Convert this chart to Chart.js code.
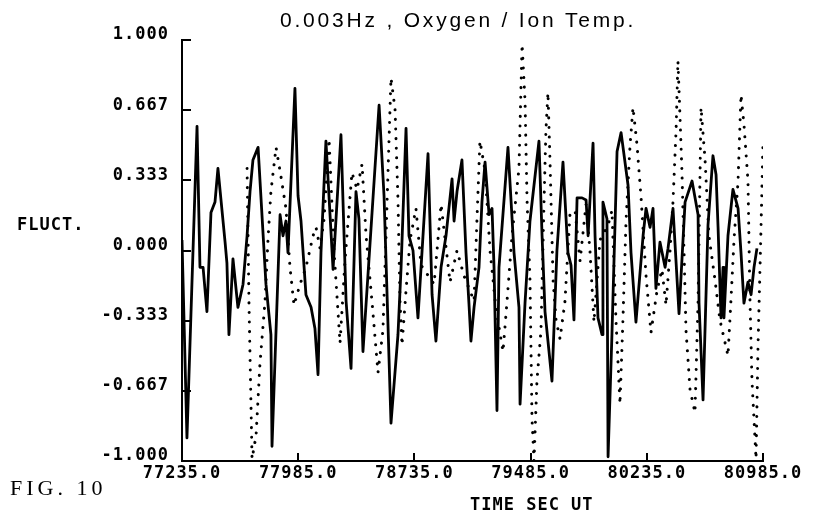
<!DOCTYPE html>
<html>
<head>
<meta charset="utf-8">
<script src="https://cdn.jsdelivr.net/npm/chart.js@4"></script>
<style>
  body { margin: 0; background: #fff; }
  canvas { display: block; }
</style>
</head>
<body>
<canvas id="fluct-chart" width="820" height="516"></canvas>
<script>
// Textos da figura
const titleText = '0.003Hz , Oxygen / Ion Temp.';
const yTitle = 'FLUCT.';
const xTitle = 'TIME SEC UT';
const figLabel = 'FIG. 10';

// Marcas dos eixos
const xTicks = [77235, 77985, 78735, 79485, 80235, 80985];
const yTicks = [-1, -0.667, -0.333, 0, 0.333, 0.667, 1];

// Curva continua (tempo em s UT / flutuacao)
const solidTimes = [
  77235, 77267, 77332, 77351, 77371, 77396, 77422, 77448, 77467, 77513,
  77525, 77538, 77564, 77596, 77629, 77655, 77674, 77693, 77726, 77777,
  77809, 77816, 77868, 77887, 77906, 77919, 77964, 77984, 78003, 78035,
  78068, 78093, 78113, 78132, 78164, 78210, 78261, 78294, 78326, 78358,
  78377, 78403, 78507, 78539, 78584, 78629, 78649, 78681, 78700, 78726,
  78758, 78823, 78849, 78874, 78907, 78939, 78978, 78991, 79010, 79042,
  79068, 79087, 79100, 79120, 79152, 79171, 79191, 79217, 79236, 79249,
  79268, 79281, 79339, 79378, 79410, 79417, 79449, 79481, 79539, 79559,
  79578, 79623, 79655, 79694, 79726, 79746, 79765, 79785, 79817, 79843,
  79856, 79888, 79901, 79920, 79946, 79952, 79978, 79985, 80010, 80043,
  80069, 80114, 80133, 80165, 80211, 80230, 80256, 80275, 80294, 80320,
  80353, 80372, 80404, 80443, 80482, 80527, 80566, 80572, 80598, 80630,
  80662, 80682, 80695, 80714, 80727, 80733, 80759, 80791, 80824, 80843,
  80862, 80888, 80908, 80927, 80946
];
const solidValues = [
  0.05, -0.89, 0.59, -0.08, -0.08, -0.29, 0.18, 0.23, 0.39, 0.04,
  -0.06, -0.40, -0.04, -0.27, -0.16, 0.07, 0.28, 0.43, 0.49, -0.16,
  -0.40, -0.93, 0.17, 0.07, 0.14, -0.01, 0.77, 0.26, 0.14, -0.21,
  -0.27, -0.37, -0.59, -0.01, 0.52, -0.09, 0.55, -0.24, -0.56, 0.28,
  0.15, -0.48, 0.69, 0.26, -0.82, -0.40, -0.08, 0.58, 0.07, 0.0,
  -0.32, 0.46, -0.21, -0.43, -0.08, 0.07, 0.34, 0.14, 0.28, 0.43,
  -0.01, -0.25, -0.43, -0.27, -0.08, 0.23, 0.42, 0.17, 0.20, -0.08,
  -0.76, -0.08, 0.49, -0.01, -0.27, -0.73, -0.25, 0.14, 0.52, 0.07,
  -0.29, -0.62, 0.0, 0.42, -0.01, -0.07, -0.33, 0.25, 0.25, 0.24,
  0.07, 0.51, 0.07, -0.32, -0.40, 0.23, 0.15, -0.98, -0.40, 0.47,
  0.56, 0.31, -0.01, -0.34, 0.07, 0.20, 0.11, 0.20, -0.18, 0.04,
  -0.08, 0.01, 0.20, -0.30, 0.23, 0.33, 0.17, -0.25, -0.71, 0.12,
  0.45, 0.36, 0.11, -0.32, -0.08, -0.32, 0.07, 0.29, 0.20, -0.01,
  -0.25, -0.15, -0.21, -0.08, 0.01
];

// Curva pontilhada
const dottedTimes = [
  77655, 77667, 77687, 77713, 77738, 77771, 77790, 77809, 77842, 77874,
  77906, 77932, 77958, 77997, 78035, 78081, 78100, 78126, 78152, 78184,
  78216, 78255, 78287, 78332, 78365, 78397, 78423, 78461, 78500, 78532,
  78552, 78571, 78584, 78610, 78629, 78642, 78655, 78681, 78707, 78745,
  78778, 78862, 78907, 78965, 79010, 79055, 79120, 79139, 79158, 79191,
  79223, 79262, 79307, 79333, 79365, 79410, 79430, 79449, 79462, 79481,
  79494, 79507, 79526, 79552, 79572, 79584, 79597, 79610, 79630, 79649,
  79675, 79707, 79739, 79772, 79804, 79843, 79868, 79894, 79933, 79985,
  80010, 80036, 80062, 80081, 80101, 80127, 80146, 80172, 80198, 80230,
  80262, 80301, 80333, 80359, 80385, 80404, 80424, 80436, 80449, 80462,
  80475, 80488, 80514, 80546, 80566, 80578, 80585, 80611, 80636, 80675,
  80707, 80759, 80778, 80798, 80824, 80843, 80862, 80888, 80901, 80914,
  80940, 80953, 80972, 80985
];
const dottedValues = [
  0.39, -0.24, -0.99, -0.88, -0.54, -0.24, 0.05, 0.28, 0.49, 0.35,
  0.20, -0.08, -0.26, -0.16, -0.08, 0.07, 0.11, 0.01, 0.15, 0.53,
  0.0, -0.44, -0.05, 0.37, 0.29, 0.41, 0.07, -0.24, -0.58, -0.38,
  0.07, 0.52, 0.82, 0.67, 0.24, -0.24, -0.45, -0.19, 0.05, 0.20,
  -0.07, -0.16, 0.22, -0.15, 0.0, -0.12, -0.24, 0.15, 0.52, 0.38,
  0.0, -0.28, -0.48, -0.24, 0.07, 0.39, 0.98, 0.71, 0.24, -0.14,
  -0.80, -1.0, -0.62, -0.38, 0.24, 0.57, 0.75, 0.43, -0.14, -0.33,
  -0.42, -0.24, 0.17, 0.19, -0.05, 0.22, 0.0, -0.34, 0.05, 0.12,
  0.19, -0.33, -0.73, -0.33, 0.14, 0.50, 0.68, 0.50, 0.25, -0.12,
  -0.39, -0.19, -0.09, -0.26, 0.0, 0.23, 0.57, 0.90, 0.64, 0.37,
  0.0, -0.38, -0.66, -0.77, -0.24, 0.33, 0.68, 0.43, 0.07, -0.14,
  -0.33, -0.50, -0.24, 0.05, 0.33, 0.74, 0.60, 0.33, -0.24, -0.62,
  -0.99, -0.45, 0.10, 0.52
];

const tickFont = { family: 'DejaVu Sans Mono', size: 17, weight: 'bold' };

// Junta tempo e valor em pontos {x, y}
function toPoints(times, values) {
  return times.map((t, i) => ({ x: t, y: values[i] }));
}

// Espacamento entre letras dos rotulos (estilo impressora)
const letterSpacingPlugin = {
  id: 'letterSpacing',
  beforeDraw(chart) {
    chart.ctx.letterSpacing = '1px';
  },
};

// Tracinhos para dentro do grafico
const inwardTicks = {
  id: 'inwardTicks',
  afterDraw(chart) {
    const { ctx } = chart;
    const { x, y } = chart.scales;
    ctx.save();
    ctx.strokeStyle = '#000';
    ctx.lineWidth = 2;
    ctx.beginPath();
    for (const tick of y.ticks) {
      const py = Math.round(y.getPixelForValue(tick.value));
      ctx.moveTo(x.left, py);
      ctx.lineTo(x.left + 9, py);
    }
    for (const tick of x.ticks) {
      const px = Math.round(x.getPixelForValue(tick.value));
      ctx.moveTo(px, y.bottom);
      ctx.lineTo(px, y.bottom - 8);
    }
    ctx.stroke();
    ctx.restore();
  },
};

// Titulo, nomes dos eixos e legenda da figura
const figureText = {
  id: 'figureText',
  afterDraw(chart) {
    const { ctx } = chart;
    ctx.save();
    ctx.fillStyle = '#000';
    ctx.textAlign = 'left';
    ctx.textBaseline = 'alphabetic';

    ctx.font = '21px "Liberation Sans"';
    ctx.letterSpacing = '2.8px';
    ctx.fillText(titleText, 280, 27);

    ctx.font = 'bold 17px "DejaVu Sans Mono"';
    ctx.letterSpacing = '1px';
    ctx.fillText(yTitle, 17, 230);
    ctx.fillText(xTitle, 470, 510);

    ctx.font = '22px "Liberation Serif"';
    ctx.letterSpacing = '4px';
    ctx.fillText(figLabel, 10, 495);
    ctx.restore();
  },
};

new Chart(document.getElementById('fluct-chart'), {
  type: 'line',
  data: {
    datasets: [
      {
        label: 'continua',
        data: toPoints(solidTimes, solidValues),
        borderColor: '#000',
        borderWidth: 2.8,
        borderJoinStyle: 'round',
        pointRadius: 0,
        tension: 0,
      },
      {
        label: 'pontilhada',
        data: toPoints(dottedTimes, dottedValues),
        borderColor: '#000',
        borderWidth: 3,
        borderDash: [0.1, 9.5],
        borderCapStyle: 'round',
        pointRadius: 0,
        tension: 0,
      },
    ],
  },
  options: {
    responsive: false,
    animation: false,
    devicePixelRatio: 1,
    layout: { padding: { top: 40, right: 57, bottom: 0, left: 0 } },
    plugins: {
      legend: { display: false },
      tooltip: { enabled: false },
    },
    scales: {
      x: {
        type: 'linear',
        min: 77235,
        max: 80985,
        afterBuildTicks: (scale) => {
          scale.ticks = xTicks.map((v) => ({ value: v }));
        },
        afterFit: (scale) => {
          scale.height = 55;
        },
        grid: { display: false, drawTicks: false },
        border: { display: true, color: '#000', width: 2 },
        ticks: {
          color: '#000',
          font: tickFont,
          padding: 2,
          maxRotation: 0,
          autoSkip: false,
          callback: (v) => Number(v).toFixed(1),
        },
      },
      y: {
        min: -1,
        max: 1,
        afterBuildTicks: (scale) => {
          scale.ticks = yTicks.map((v) => ({ value: v }));
        },
        afterFit: (scale) => {
          scale.width = 182;
        },
        grid: { display: false, drawTicks: false },
        border: { display: true, color: '#000', width: 2 },
        ticks: {
          color: '#000',
          font: tickFont,
          padding: 13,
          labelOffset: -5,
          autoSkip: false,
          callback: (v) => Number(v).toFixed(3),
        },
      },
    },
  },
  plugins: [letterSpacingPlugin, inwardTicks, figureText],
});
</script>
</body>
</html>
